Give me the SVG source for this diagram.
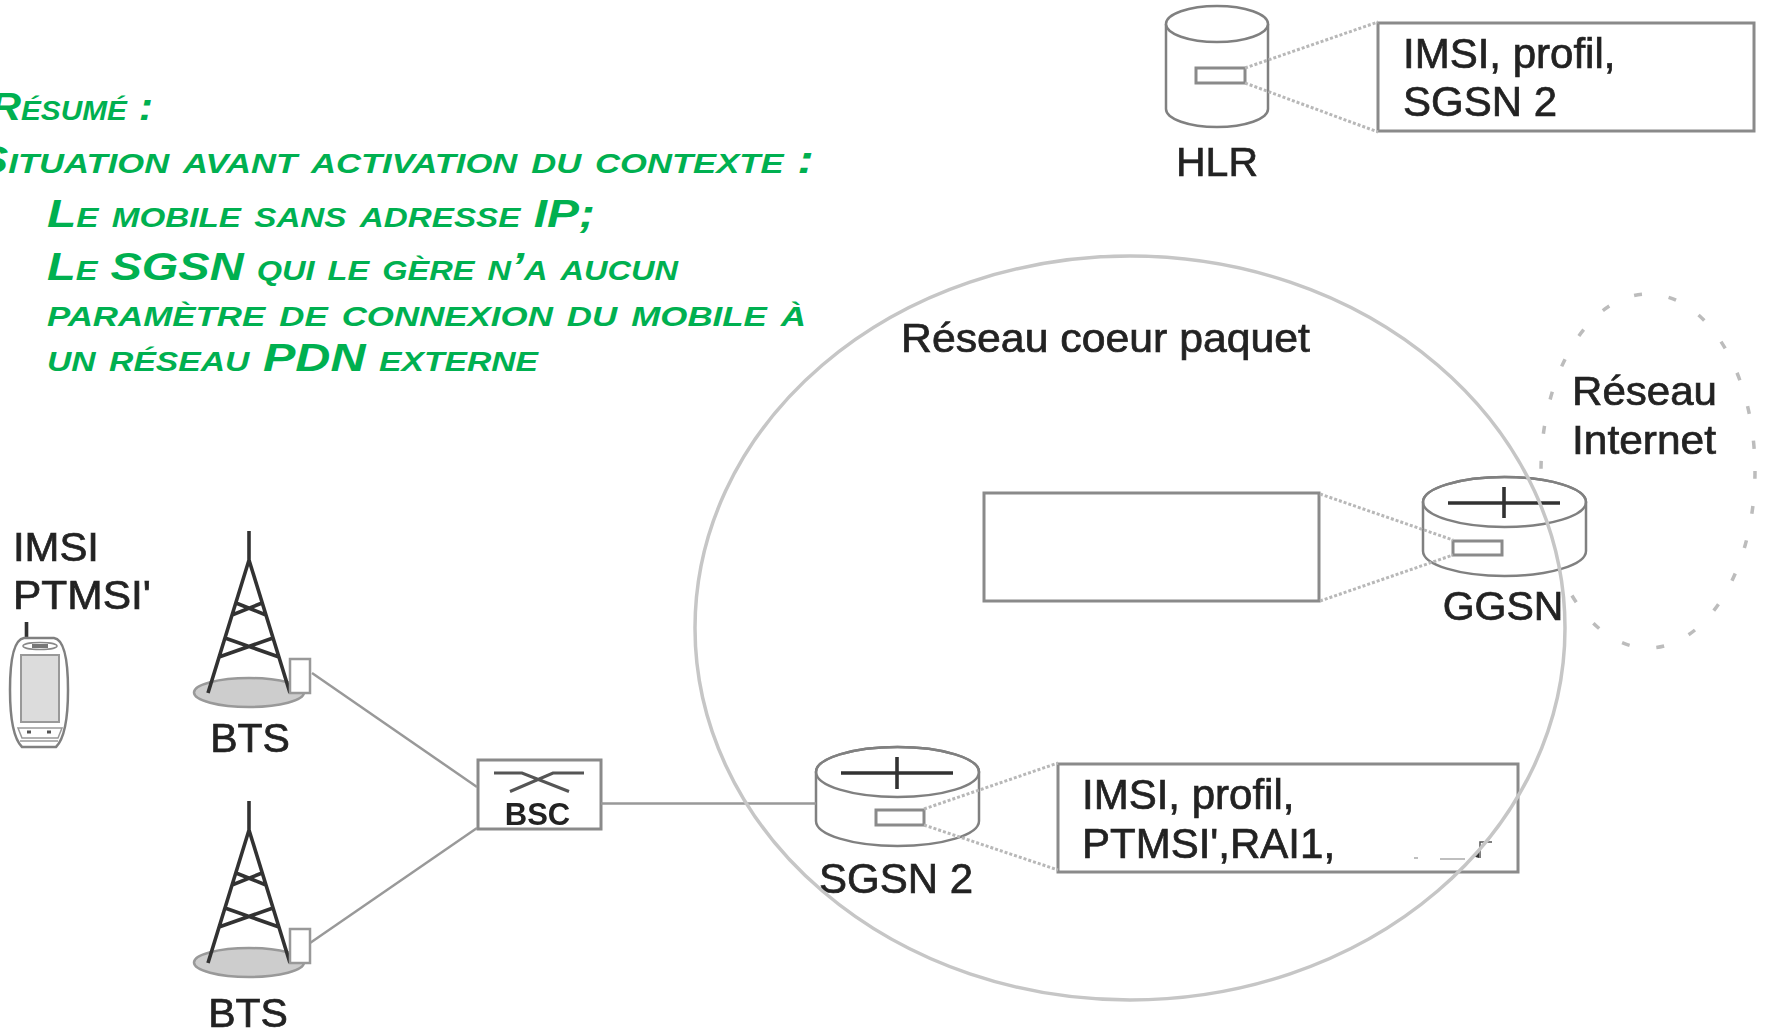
<svg xmlns="http://www.w3.org/2000/svg" width="1766" height="1032" viewBox="0 0 1766 1032">
<style>
.lbl{font-family:"Liberation Sans",Arial,sans-serif;font-size:41px;fill:#232323;stroke:#232323;stroke-width:.7px}
.big{font-size:42px}
.grn{font-family:"Liberation Sans",Arial,sans-serif;font-size:39px;font-style:italic;font-weight:bold;font-variant:small-caps;fill:#00b050}
.box{fill:#fff;stroke:#8a8a8a;stroke-width:3}
.thin{fill:#fff;stroke:#808080;stroke-width:2.5}
.dot{fill:none;stroke:#b8b8b8;stroke-width:3;stroke-dasharray:3 2}
.link{fill:none;stroke:#999;stroke-width:2.5}
.dark{fill:none;stroke:#333;stroke-width:3.6}
.soft{filter:url(#soft)}
</style>
<defs>
<filter id="soft" x="-5%" y="-5%" width="110%" height="110%"><feGaussianBlur stdDeviation="0.6"/></filter>
<g id="tower">
<ellipse cx="249" cy="692.500" rx="55" ry="14.500" fill="#cdcdcd" stroke="#999" stroke-width="2.500"/>
<path class="dark" d="M249 531V560M208 693L249 560L290 693M236 603L266 615M262 603L232 615M225 638L279 657M273 638L219 657"/>
<rect x="290" y="659" width="20" height="34" fill="#fff" stroke="#999" stroke-width="2.500"/>
</g>
<g id="router">
<path class="thin" d="M-81.500 0A81.500 25 0 0 1 81.500 0V49A81.500 25 0 0 1-81.500 49Z"/>
<ellipse cx="0" cy="0" rx="81.500" ry="25" fill="none" stroke="#808080" stroke-width="2.500"/>
</g>
</defs>
<rect width="1766" height="1032" fill="#fff"/>

<g id="summary">
<text class="grn" x="-10" y="120" textLength="163" lengthAdjust="spacingAndGlyphs">Résumé :</text>
<text class="grn" x="-25" y="173" textLength="839" lengthAdjust="spacingAndGlyphs">Situation avant activation du contexte :</text>
<text class="grn" x="47" y="227" textLength="548" lengthAdjust="spacingAndGlyphs">Le mobile sans adresse IP;</text>
<text class="grn" x="47" y="280" textLength="631" lengthAdjust="spacingAndGlyphs">Le SGSN qui le gère n’a aucun</text>
<text class="grn" x="47" y="326" textLength="759" lengthAdjust="spacingAndGlyphs">paramètre de connexion du mobile à</text>
<text class="grn" x="47" y="371" textLength="491" lengthAdjust="spacingAndGlyphs">un réseau PDN externe</text>
</g>

<g id="internet" class="soft">
<ellipse cx="1648" cy="471" rx="107" ry="177" fill="none" stroke="#bcbcbc" stroke-width="3.500" stroke-dasharray="8 27"/>
<text class="lbl" x="1572" y="405" textLength="145" lengthAdjust="spacingAndGlyphs">Réseau</text>
<text class="lbl" x="1572" y="454" textLength="144" lengthAdjust="spacingAndGlyphs">Internet</text>
</g>

<g id="phone" class="soft">
<path d="M26.500 622V640" class="dark"/>
<path class="thin" d="M24 638H54Q68 640 68 690Q68 735 56 747H22Q10 735 10 690Q10 640 24 638Z"/>
<rect x="21" y="655" width="38" height="67" fill="#dcdcdc" stroke="#999" stroke-width="2"/>
<ellipse cx="40" cy="646" rx="17" ry="3.500" fill="#fff" stroke="#888" stroke-width="1.500"/>
<rect x="32" y="644" width="16" height="4" fill="#777"/>
<path d="M18 728H62L58 738H22ZM20 741H58" fill="none" stroke="#999" stroke-width="1.500"/>
<path d="M27 732H31M47 732H51" stroke="#555" stroke-width="3"/>
</g>
<g id="imsi" class="soft">
<text class="lbl" x="13" y="561" textLength="86" lengthAdjust="spacingAndGlyphs">IMSI</text>
<text class="lbl" x="13" y="609" textLength="138" lengthAdjust="spacingAndGlyphs">PTMSI'</text>
</g>

<g id="bts-1" class="soft">
<use href="#tower"/>
<text class="lbl" x="250" y="752" text-anchor="middle">BTS</text>
</g>
<g id="bts-2" class="soft">
<use href="#tower" y="270"/>
<text class="lbl" x="248" y="1027" text-anchor="middle">BTS</text>
</g>

<g id="bsc" class="soft">
<rect class="box" x="478" y="760" width="123" height="69" stroke-width="2.500"/>
<path d="M494 773H522L569 791.500M584 773H553L510 791.500" fill="none" stroke="#555" stroke-width="3"/>
<text x="537.500" y="825" text-anchor="middle" font-family="Liberation Sans, Arial, sans-serif" font-size="31" font-weight="bold" fill="#232323">BSC</text>
</g>

<g id="sgsn" class="soft">
<use href="#router" transform="translate(897.500 772)"/>
<path class="dark" d="M841 773H953M897 757V789"/>
<rect class="box" x="876" y="810" width="48" height="15"/>
<text class="lbl big" x="896" y="893" text-anchor="middle">SGSN 2</text>
</g>

<g id="sgsn-box" class="soft">
<rect class="box" x="1058" y="764" width="460" height="108" stroke="#777"/>
<text class="lbl big" x="1082" y="809">IMSI, profil,</text>
<text class="lbl big" x="1082" y="858">PTMSI',RAI1,</text>
<path d="M1480 858V842H1492" fill="none" stroke="#555" stroke-width="1.500"/>
<path d="M1472 856L1479 850V858Z" fill="#333"/>
<path d="M1440 859H1465M1414 858H1418" fill="none" stroke="#aaa" stroke-width="1.500"/>
</g>

<g id="hlr" class="soft">
<path class="thin" d="M1166 24V109A51 18 0 0 0 1268 109V24"/>
<ellipse cx="1217" cy="24" rx="51" ry="18" fill="#fff" stroke="#808080" stroke-width="2.500"/>
<rect class="box" x="1196" y="68" width="49" height="15"/>
<text class="lbl" x="1217" y="176" text-anchor="middle">HLR</text>
</g>

<g id="hlr-box" class="soft">
<rect class="box" x="1378" y="23" width="376" height="108" stroke="#777"/>
<text class="lbl big" x="1403" y="68">IMSI, profil,</text>
<text class="lbl big" x="1403" y="116">SGSN 2</text>
</g>

<g id="ggsn-box" class="soft">
<rect class="box" x="984" y="493" width="335" height="108" stroke="#777"/>
</g>

<g id="ggsn" class="soft">
<use href="#router" transform="translate(1504.500 502)"/>
<path class="dark" d="M1448 503H1560M1504 487V518"/>
<rect class="box" x="1453" y="541" width="49" height="14"/>
<text class="lbl" x="1503" y="620" text-anchor="middle">GGSN</text>
</g>

<g id="connectors" class="soft">
<path class="link" d="M312 673L477 787"/>
<path class="link" d="M310 943L477 828"/>
<path class="link" d="M601 803.500H816"/>
<path class="dot" d="M1245 68L1378 22M1245 83L1378 132"/>
<path class="dot" d="M1320 494L1453 540M1320 601L1453 555"/>
<path class="dot" d="M924 809L1058 763M924 825L1058 870"/>
</g>

<g id="core" class="soft">
<ellipse cx="1130" cy="628" rx="435" ry="372" fill="none" stroke="#c6c6c6" stroke-width="3.500"/>
<text class="lbl" x="901" y="352" textLength="409" lengthAdjust="spacingAndGlyphs">Réseau coeur paquet</text>
</g>
</svg>
